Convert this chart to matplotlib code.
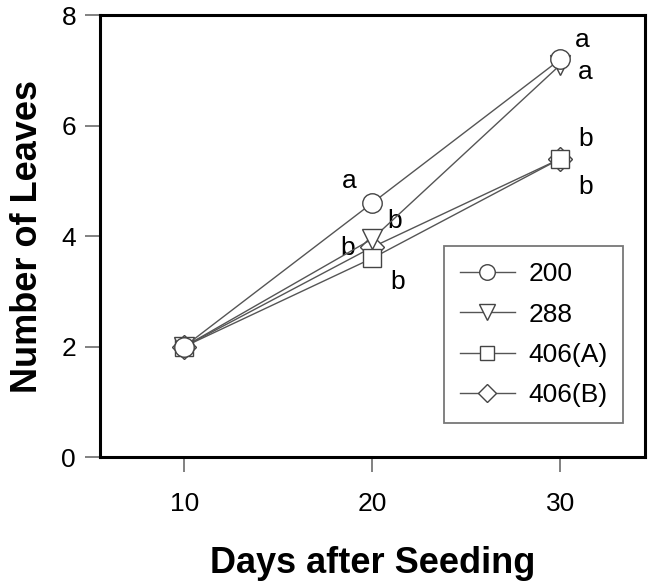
import matplotlib
matplotlib.use("Agg")
import matplotlib.pyplot as plt

plt.rcParams['font.family'] = ['Liberation Sans', 'DejaVu Sans']

# Données
days = [10, 20, 30]
labels = ["200", "288", "406(A)", "406(B)"]
leaves_200 = [2.0, 4.6, 7.2]
leaves_288 = [2.0, 3.95, 7.1]
leaves_406a = [2.0, 3.6, 5.4]
leaves_406b = [2.0, 3.8, 5.4]
letters_20 = ["a", "b", "b", "b"]
letters_30 = ["a", "a", "b", "b"]

series = [leaves_200, leaves_288, leaves_406a, leaves_406b]
markers = ["o", "v", "s", "D"]
msizes = [14, 14, 13, 12]
# décalages des lettres (pixels) par rapport au point
off_20 = [(-23, 22), (22, 18), (25, -24), (-25, -1)]
off_30 = [(22, 19), (25, -7), (25, 20), (25, -28)]

fig = plt.figure(figsize=(6.56, 5.83), dpi=100)
ax = fig.add_axes([0.152, 0.216, 0.831, 0.758])

order = [3, 2, 1, 0]
for i in order:
    ax.plot(days, series[i], color="#555555", lw=1.0, marker=markers[i],
            markersize=msizes[i], markerfacecolor="white",
            markeredgecolor="#444444", markeredgewidth=1.0,
            label=labels[i], zorder=3 + (3 - i))

for i in range(4):
    ax.annotate(letters_20[i], (days[1], series[i][1]), xytext=off_20[i],
                textcoords="offset pixels", ha="center", va="center",
                fontsize=19)
    ax.annotate(letters_30[i], (days[2], series[i][2]), xytext=off_30[i],
                textcoords="offset pixels", ha="center", va="center",
                fontsize=19)

ax.set_xlim(5.5, 34.5)
ax.set_ylim(0, 8)
ax.set_xticks([10, 20, 30])
ax.set_yticks([0, 2, 4, 6, 8])
ax.tick_params(axis="both", direction="out", length=11, width=1.3,
               color="#777777", labelsize=19)
ax.tick_params(axis="x", pad=14)
ax.tick_params(axis="y", pad=6)
for s in ax.spines.values():
    s.set_linewidth(2.2)

ax.set_xlabel("Days after Seeding", fontsize=26, fontweight="bold", labelpad=22)
ax.set_ylabel("Number of Leaves", fontsize=26, fontweight="bold", labelpad=12)

handles, labs = ax.get_legend_handles_labels()
hmap = dict(zip(labs, handles))
leg = ax.legend([hmap[l] for l in labels], labels, loc="lower left",
                bbox_to_anchor=(0.607, 0.047), fontsize=19, frameon=True,
                fancybox=False, handlelength=2.1, handletextpad=0.5,
                labelspacing=0.62, borderpad=0.6, markerscale=0.8)
leg.get_frame().set_edgecolor("#555555")
leg.get_frame().set_linewidth(1.3)

fig.savefig("out.png", dpi=100)
